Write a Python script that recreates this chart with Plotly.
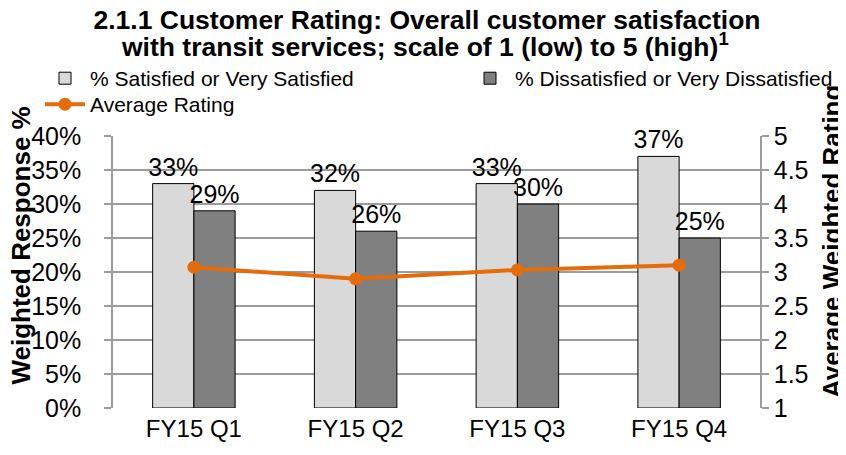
import plotly.graph_objects as go

# data
quarters = ['FY15 Q1', 'FY15 Q2', 'FY15 Q3', 'FY15 Q4']
satisfied = [0.33, 0.32, 0.33, 0.37]
dissatisfied = [0.29, 0.26, 0.30, 0.25]
avg_rating = [3.07, 2.90, 3.03, 3.10]

FONT = 'Liberation Sans, Arial, sans-serif'
GRID = '#9c9c9c'

# the page keeps the browser's 8px body margin, so the figure is 8px
# smaller than the window and everything is placed relative to that
W, H = 838, 447

fig = go.Figure()

fig.add_trace(go.Bar(
    x=quarters, y=satisfied, name='% Satisfied or Very Satisfied',
    marker=dict(color='#d9d9d9', line=dict(color='black', width=1)),
    texttemplate='%{y:.0%}', textposition='outside', constraintext='none',
    cliponaxis=False, textfont=dict(size=25, color='black'),
    legend='legend',
))
fig.add_trace(go.Bar(
    x=quarters, y=dissatisfied, name='% Dissatisfied or Very Dissatisfied',
    marker=dict(color='#808080', line=dict(color='black', width=1)),
    texttemplate='%{y:.0%}', textposition='outside', constraintext='none',
    cliponaxis=False, textfont=dict(size=25, color='black'),
    legend='legend3',
))
fig.add_trace(go.Scatter(
    x=quarters, y=avg_rating, name='Average Rating', yaxis='y2',
    mode='lines+markers',
    line=dict(color='#e46c0a', width=4),
    marker=dict(color='#e46c0a', size=13),
    legend='legend2',
))

# second title line and axis titles as annotations
fig.add_annotation(
    text='<b>with transit services; scale of 1 (low) to 5 (high)<sup>1</sup></b>',
    xref='paper', yref='paper', x=(425 - 113) / 647, y=1 + (136 - 45) / 272,
    xanchor='center', yanchor='middle', showarrow=False,
    font=dict(size=26.5),
)
fig.add_annotation(
    text='<b>Weighted Response %</b>', textangle=-90,
    xref='paper', yref='paper', x=(21 - 113) / 647, y=0.597,
    xanchor='center', yanchor='middle', showarrow=False,
    font=dict(size=26),
)
fig.add_annotation(
    text='<b>Average Weighted Rating</b>', textangle=-90,
    xref='paper', yref='paper', x=(832 - 113) / 647, y=0.029,
    xanchor='center', yanchor='bottom', showarrow=False,
    font=dict(size=26),
)

legend_common = dict(
    orientation='h', xanchor='left', xref='container', yanchor='top',
    yref='container', font=dict(size=21), itemwidth=40,
    bgcolor='rgba(0,0,0,0)',
)

fig.update_layout(
    width=W, height=H,
    margin=dict(l=105, r=86, t=128, b=47, autoexpand=False),
    paper_bgcolor='white', plot_bgcolor='white',
    font=dict(family=FONT, color='black', size=24),
    title=dict(
        text='<b>2.1.1 Customer Rating: Overall customer satisfaction</b>',
        x=0.5, xanchor='center', y=1 - 12 / H, yanchor='middle',
        font=dict(size=26.5),
    ),
    showlegend=True,
    barmode='group', bargap=0.49, bargroupgap=0,
    legend=dict(x=32 / W, y=0.888, visible=True, **legend_common),
    legend3=dict(x=457 / W, y=0.888, **legend_common),
    legend2=dict(x=32 / W, y=0.830, **legend_common),
    xaxis=dict(
        showgrid=False, ticks='', tickfont=dict(size=24),
        showline=False, ticklabelstandoff=4,
    ),
    yaxis=dict(
        range=[0, 0.4], dtick=0.05, tickformat='.0%',
        showgrid=True, gridcolor=GRID, gridwidth=1.5,
        showline=True, linecolor=GRID, linewidth=1.5,
        ticks='outside', ticklen=7, tickcolor=GRID, tickwidth=1.5,
        tickfont=dict(size=25), ticklabelstandoff=18,
        zeroline=False,
    ),
    yaxis2=dict(
        range=[1, 5], dtick=0.5, overlaying='y', side='right',
        showgrid=False,
        showline=True, linecolor=GRID, linewidth=1.5,
        ticks='outside', ticklen=7, tickcolor=GRID, tickwidth=1.5,
        tickfont=dict(size=25),
        zeroline=False,
    ),
)

fig.write_html('out.html')
